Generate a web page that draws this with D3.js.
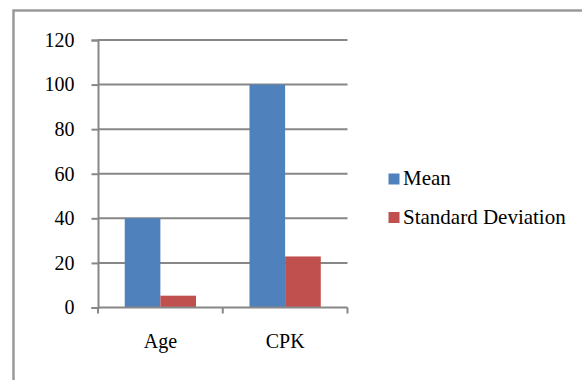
<!DOCTYPE html>
<html>
<head>
<meta charset="utf-8">
<script src="https://cdn.jsdelivr.net/npm/d3@7"></script>
<style>
  body { margin: 0; background: #fff; }
  svg { display: block; }
</style>
</head>
<body>
<svg id="chart" width="582" height="380"></svg>
<script>
// chart data
var categories = ["Age", "CPK"];
var series = ["Mean", "Standard Deviation"];
var colors = ["#4F81BD", "#C0504D"];
var meanValues = [40, 100];
var sdValues = [5.3, 22.9];
var yTicks = [0, 20, 40, 60, 80, 100, 120];

var rows = categories.map(function(c, i) {
    return { cat: c, values: [meanValues[i], sdValues[i]] };
});

var svg = d3.select("#chart");
var grey = "#878787";
var serif = "Liberation Serif";

// outer frame, cut off at right and bottom like the source
svg.append("rect")
    .attr("x", 13.5).attr("y", 10.5)
    .attr("width", 600).attr("height", 400)
    .attr("fill", "none")
    .attr("stroke", "#999")
    .attr("stroke-width", 2.5);

var x0 = d3.scaleBand()
    .domain(categories)
    .range([98, 347.5])
    .padding(0);

var x1 = d3.scaleBand()
    .domain(series)
    .range([0, x0.bandwidth()])
    .paddingInner(0)
    .paddingOuter(0.75);

var y = d3.scaleLinear()
    .domain([0, 120])
    .range([307.5, 40]);

var color = d3.scaleOrdinal().domain(series).range(colors);

// grid lines
svg.append("g")
    .selectAll("line")
    .data(yTicks.filter(function(t) { return t > 0; }))
    .join("line")
    .attr("x1", 98).attr("x2", 347.5)
    .attr("y1", function(d) { return y(d); })
    .attr("y2", function(d) { return y(d); })
    .attr("stroke", grey)
    .attr("stroke-width", 2);

// bars
svg.append("g")
    .selectAll("g")
    .data(rows)
    .join("g")
    .attr("transform", function(d) { return "translate(" + x0(d.cat) + ",0)"; })
    .selectAll("rect")
    .data(function(d) { return d.values.map(function(v, i) { return { key: series[i], value: v }; }); })
    .join("rect")
    .attr("x", function(d) { return x1(d.key); })
    .attr("width", x1.bandwidth())
    .attr("y", function(d) { return y(d.value); })
    .attr("height", function(d) { return y(0) - y(d.value); })
    .attr("fill", function(d) { return color(d.key); });

// y axis
var yAxis = svg.append("g")
    .attr("transform", "translate(98,0)")
    .call(d3.axisLeft(y).tickValues(yTicks).tickSize(6.5).tickPadding(17));
yAxis.attr("font-family", serif).attr("font-size", 20);
yAxis.select(".domain").attr("stroke", grey).attr("stroke-width", 2);
yAxis.selectAll(".tick line").attr("stroke", grey).attr("stroke-width", 2);
yAxis.selectAll(".tick text").attr("fill", "#000");

// x axis: baseline plus ticks at band edges
var xAxisG = svg.append("g");
xAxisG.append("line")
    .attr("x1", 98).attr("x2", 347.5)
    .attr("y1", y(0)).attr("y2", y(0))
    .attr("stroke", grey).attr("stroke-width", 2);
var edges = categories.map(function(c) { return x0(c); }).concat([x0.range()[1]]);
xAxisG.selectAll(".edge")
    .data(edges)
    .join("line")
    .attr("class", "edge")
    .attr("x1", function(d) { return d; }).attr("x2", function(d) { return d; })
    .attr("y1", y(0)).attr("y2", y(0) + 6)
    .attr("stroke", grey).attr("stroke-width", 2);
xAxisG.selectAll("text")
    .data(categories)
    .join("text")
    .attr("x", function(d) { return x0(d) + x0.bandwidth() / 2; })
    .attr("y", 348)
    .attr("text-anchor", "middle")
    .attr("fill", "#000")
    .attr("font-family", serif)
    .attr("font-size", 20)
    .text(function(d) { return d; });

// legend
var legend = svg.append("g")
    .selectAll("g")
    .data(series)
    .join("g")
    .attr("transform", function(d, i) { return "translate(388.5," + (173.5 + i * 38.5) + ")"; });
legend.append("rect")
    .attr("width", 11).attr("height", 11)
    .attr("fill", function(d) { return color(d); });
legend.append("text")
    .attr("x", 14.5).attr("y", 11.5)
    .attr("fill", "#000")
    .attr("font-family", serif)
    .attr("font-size", 21)
    .text(function(d) { return d; });
</script>
</body>
</html>
